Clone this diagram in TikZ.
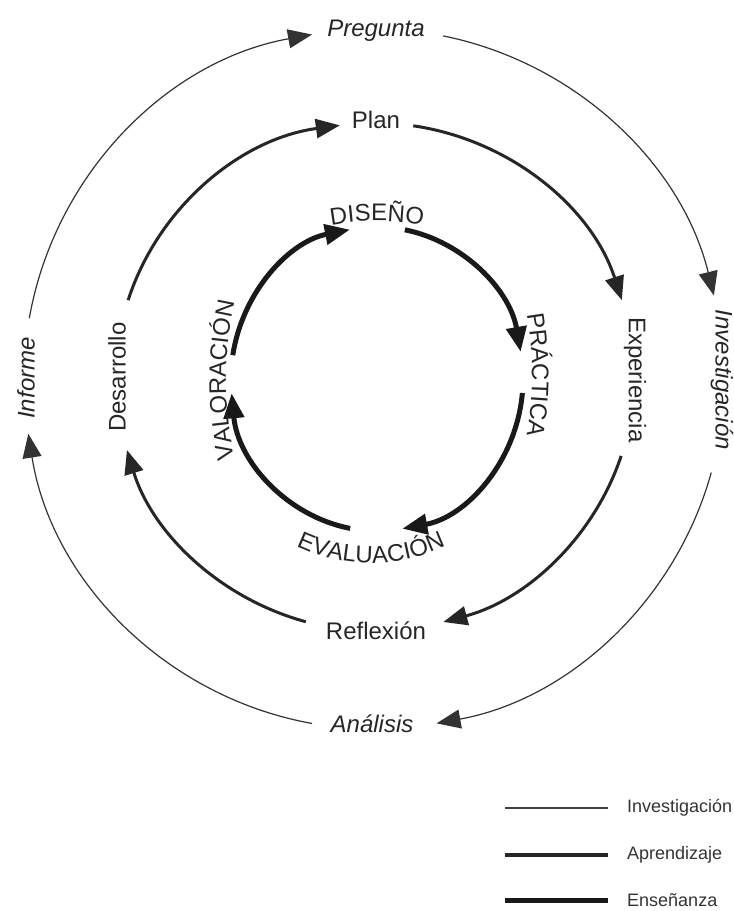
\documentclass[tikz,border=0pt]{standalone}
\usepackage{fontspec}
\setmainfont{Liberation Sans}
\usetikzlibrary{arrows.meta,decorations.text}
\newcommand{\bigtxt}{\fontsize{24}{28}\selectfont}
\begin{document}
\begin{tikzpicture}[x=1pt,y=1pt,
  lab/.style={font=\bigtxt, text=black!85, inner sep=0pt},
  olab/.style={font=\bigtxt\itshape, text=black!85, inner sep=0pt},
  leg/.style={font=\fontsize{18}{22}\selectfont, text=black!80, inner sep=0pt, anchor=west},
  inv/.style={line width=1.2pt, draw=black!80, -{Triangle[length=24pt,width=19pt]}},
  apr/.style={line width=3pt, draw=black!85, -{Triangle[length=24pt,width=19pt]}},
  ens/.style={line width=5pt, draw=black!90, -{Triangle[length=25pt,width=20pt]}},
  curv/.style={decorate, decoration={text along path, text align=center, text color=black!85}},
]
\useasboundingbox (0,0) rectangle (734,911);
\coordinate (O) at (374,532);
\coordinate (M) at (375,534);
\coordinate (I) at (377,532);
% centres of the (flatter) curves that carry the inner texts
\coordinate (cD) at (377,440);
\coordinate (cP) at (182,536);
\coordinate (cE) at (371,523);
\coordinate (cV) at (576,531);

% outer labels (Investigación cycle)
\node[olab] (preg) at (376,880) {Pregunta};
\node[olab, rotate=-90] (invest) at (722,531) {Investigación};
\node[olab] (anal) at (372,187) {Análisis};
\node[olab, rotate=90] (inf) at (26,533) {Informe};

% middle labels (Aprendizaje cycle)
\node[lab] (plan) at (376,791) {Plan};
\node[lab, rotate=-90] (exper) at (635,531) {Experiencia};
\node[lab] (refl) at (376,280) {Reflexión};
\node[lab, rotate=90] (desa) at (117,534) {Desarrollo};

% outer arcs
\draw[inv] ([shift={(170:350)}]O) arc[start angle=170, end angle=100.2, radius=350];
\draw[inv] ([shift={(78.6:350)}]O) arc[start angle=78.6, end angle=13.8, radius=350];
\draw[inv] ([shift={(-15.5:350)}]O) arc[start angle=-15.5, end angle=-79.7, radius=350];
\draw[inv] ([shift={(-100.2:350)}]O) arc[start angle=-100.2, end angle=-171, radius=350];

% middle arcs (slightly elliptic)
\draw[apr] ([shift={(162.4:259 and 254)}]M) arc[start angle=162.4, end angle=97.8, x radius=259, y radius=254];
\draw[apr] ([shift={(81.5:259 and 254)}]M) arc[start angle=81.5, end angle=17.6, x radius=259, y radius=254];
\draw[apr] ([shift={(-18.1:259 and 254)}]M) arc[start angle=-18.1, end angle=-74.7, x radius=259, y radius=254];
\draw[apr] ([shift={(-105.5:259 and 254)}]M) arc[start angle=-105.5, end angle=-163.3, x radius=259, y radius=254];

% inner arcs (slightly elliptic)
\draw[ens] ([shift={(171:146 and 152)}]I) arc[start angle=171, end angle=100.7, x radius=146, y radius=152];
\draw[ens] ([shift={(79:146 and 152)}]I) arc[start angle=79, end angle=10.3, x radius=146, y radius=152];
\draw[ens] ([shift={(-5.3:146 and 152)}]I) arc[start angle=-5.3, end angle=-80, x radius=146, y radius=152];
\draw[ens] ([shift={(-100.6:146 and 152)}]I) arc[start angle=-100.6, end angle=-174.6, x radius=146, y radius=152];

% inner curved labels (Enseñanza cycle)
\path[curv, decoration={text={|\bigtxt|DISEÑO}}] ([shift={(110:250)}]cD) arc[start angle=110, end angle=70, radius=250];
\path[curv, decoration={text={|\bigtxt|PRÁCTICA}}] ([shift={(14:350)}]cP) arc[start angle=14, end angle=-14, radius=350];
\path[curv, decoration={text={|\bigtxt|EVALUACIÓN}}] ([shift={(-120:175)}]cE) arc[start angle=-120, end angle=-60, radius=175];
\path[curv, decoration={text={|\bigtxt|VALORACIÓN}}] ([shift={(194:350)}]cV) arc[start angle=194, end angle=166, radius=350];

% legend
\coordinate (l1a) at (505,103); \coordinate (l1b) at (608,103);
\coordinate (l2a) at (505,56);  \coordinate (l2b) at (608,56);
\coordinate (l3a) at (505,10);  \coordinate (l3b) at (608,10);
\draw[line width=1.2pt, draw=black!75] (l1a) -- (l1b);
\draw[line width=3.3pt, draw=black!85] (l2a) -- (l2b);
\draw[line width=5pt, draw=black!90] (l3a) -- (l3b);
\node[leg] (t1) at (627,103) {Investigación};
\node[leg] (t2) at (627,56) {Aprendizaje};
\node[leg] (t3) at (627,11) {Enseñanza};
\end{tikzpicture}
\end{document}
